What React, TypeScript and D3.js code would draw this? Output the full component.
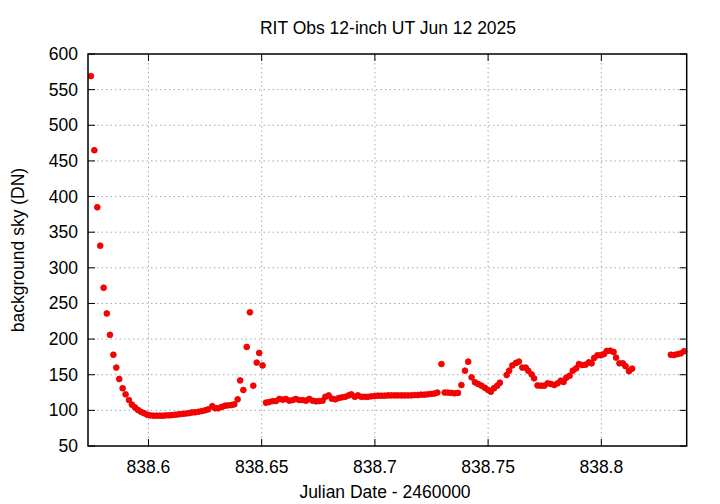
import * as d3 from "d3";

// Julian Date - 2460000 and background sky level (DN)
const jd = [
  838.5746, 838.5761, 838.5774, 838.5787, 838.5802, 838.5816, 838.583, 838.5845, 838.5858, 838.5871,
  838.5886, 838.5899, 838.5914, 838.5927, 838.5941, 838.5954, 838.5967, 838.598, 838.5994, 838.6008,
  838.6022, 838.6036, 838.605, 838.6064, 838.6078, 838.6092, 838.6106, 838.612, 838.6134, 838.6149,
  838.6163, 838.6177, 838.6191, 838.6205, 838.622, 838.6235, 838.625, 838.6264, 838.6282, 838.6294,
  838.6308, 838.6323, 838.6338, 838.6352, 838.6367, 838.6379, 838.6394, 838.6405, 838.6419, 838.6434,
  838.6448, 838.6463, 838.6478, 838.6489, 838.6504, 838.6519, 838.6533, 838.6549, 838.6563, 838.6578,
  838.6593, 838.6607, 838.6622, 838.6637, 838.6651, 838.6666, 838.6681, 838.6696, 838.671, 838.6725,
  838.674, 838.6754, 838.6769, 838.6781, 838.6796, 838.681, 838.6825, 838.684, 838.6854, 838.6869,
  838.6884, 838.6896, 838.6911, 838.6925, 838.694, 838.6955, 838.6969, 838.6984, 838.6999, 838.7013,
  838.7028, 838.7043, 838.7058, 838.7072, 838.7087, 838.7101, 838.7116, 838.713, 838.7145, 838.716,
  838.7174, 838.7189, 838.7203, 838.7218, 838.7232, 838.7247, 838.7262, 838.7276, 838.7294, 838.7308,
  838.7322, 838.7337, 838.7352, 838.7367, 838.7382, 838.7398, 838.7412, 838.7427, 838.7442, 838.7456,
  838.7471, 838.7486, 838.75, 838.7512, 838.7526, 838.754, 838.7552, 838.7582, 838.7593, 838.7607,
  838.7623, 838.7636, 838.7651, 838.7666, 838.7677, 838.7692, 838.7703, 838.7718, 838.7733, 838.7748,
  838.7763, 838.7777, 838.7792, 838.7807, 838.7821, 838.7833, 838.7845, 838.786, 838.7874, 838.7889,
  838.7901, 838.7915, 838.793, 838.7945, 838.7957, 838.7968, 838.7983, 838.7998, 838.8012, 838.8024,
  838.8039, 838.8054, 838.8065, 838.808, 838.8095, 838.8107, 838.8122, 838.8136, 838.8307, 838.8322,
  838.8337, 838.8351, 838.8366,
];
const sky = [
  569, 465, 385, 331, 272, 236, 206, 178, 160, 144,
  131, 122.5, 114.5, 108, 104, 100.5, 98, 96, 94, 93,
  92.5, 92.5, 92.5, 92.5, 93, 93, 93.5, 94, 94.5, 95,
  95.5, 96, 97, 97.3, 98, 99, 100, 101.5, 106, 103,
  103, 104.7, 106.5, 107, 107.5, 108.5, 115.5, 142, 128.6, 189,
  237.6, 134.6, 167, 180.5, 163, 110.8, 111.7, 113, 113, 116,
  115, 116, 113.6, 114.5, 116, 114.5, 114.5, 113.6, 116, 113.6,
  112.7, 113, 113.6, 119, 121, 116.4, 115.5, 117.3, 118.3, 119,
  121, 122.5, 119, 121, 119, 119, 119, 119.7, 120, 120.6,
  120.6, 120.6, 121, 121, 121, 121, 121, 121, 121, 121,
  121.5, 121.5, 122, 122, 122.5, 123, 123.5, 125, 165, 125,
  125, 124.5, 124, 124.5, 135.5, 155.7, 168.3, 146.4, 139.4, 137,
  134.6, 131.6, 128.6, 126.2, 131, 134.6, 138.8, 149.6, 155.7, 163,
  166.5, 168.5, 160, 160, 155.7, 150.6, 145, 135, 134.6, 134.6,
  138, 137, 135.6, 138, 141.6, 139.8, 145.8, 148.6, 155.7, 159,
  165, 163.6, 164, 167.4, 166, 173.5, 177.3, 177.3, 179, 183.3,
  183.7, 182, 174, 166, 166, 162, 155, 158.5, 178, 177.7,
  179, 180, 183,
];
const xTicks = [838.6, 838.65, 838.7, 838.75, 838.8];
const yTicks = [50, 100, 150, 200, 250, 300, 350, 400, 450, 500, 550, 600];

const W = 720;
const H = 504;
const left = 88;
const right = 686.7;
const top = 54;
const bottom = 446;
const font = "'Liberation Sans', Arial, sans-serif";
const fs = 17.5;

export default function App() {
  const x = d3.scaleLinear().domain([838.5733, 838.8377]).range([left, right]);
  const y = d3.scaleLinear().domain([50, 600]).range([bottom, top]);
  const tick = 7;

  return (
    <svg
      width={W}
      height={H}
      style={{ position: "absolute", left: 0, top: 0, background: "#fff" }}
      fontFamily={font}
    >
      <rect width={W} height={H} fill="#fff" />
      {/* grid */}
      <g stroke="#a8a8a8" strokeWidth={1} strokeDasharray="1.5,3">
        {xTicks.map((t) => (
          <line key={t} x1={x(t)} x2={x(t)} y1={top} y2={bottom} />
        ))}
        {yTicks.slice(1, -1).map((t) => (
          <line key={t} x1={left} x2={right} y1={y(t)} y2={y(t)} />
        ))}
      </g>
      {/* ticks on all four sides */}
      <g stroke="#000" strokeWidth={1}>
        {xTicks.map((t) => (
          <g key={t}>
            <line x1={x(t)} x2={x(t)} y1={bottom} y2={bottom - tick} />
            <line x1={x(t)} x2={x(t)} y1={top} y2={top + tick} />
          </g>
        ))}
        {yTicks.map((t) => (
          <g key={t}>
            <line x1={left} x2={left + tick} y1={y(t)} y2={y(t)} />
            <line x1={right} x2={right - tick} y1={y(t)} y2={y(t)} />
          </g>
        ))}
      </g>
      {/* points */}
      <g fill="#ff0000" stroke="#e00000" strokeWidth={0.8}>
        {jd.map((d, i) => (
          <circle key={i} cx={x(d)} cy={y(sky[i])} r={2.9} />
        ))}
      </g>
      <rect
        x={left}
        y={top}
        width={right - left}
        height={bottom - top}
        fill="none"
        stroke="#000"
        strokeWidth={1.5}
      />
      {/* tick labels */}
      <g fontSize={fs} fill="#000">
        {xTicks.map((t) => (
          <text key={t} x={x(t)} y={473} textAnchor="middle">
            {String(t)}
          </text>
        ))}
        {yTicks.map((t) => (
          <text key={t} x={78} y={y(t) + 6} textAnchor="end">
            {t}
          </text>
        ))}
      </g>
      <text x={388} y={34} fontSize={fs} textAnchor="middle">
        RIT Obs 12-inch UT Jun 12 2025
      </text>
      <text x={385} y={498} fontSize={fs} textAnchor="middle">
        Julian Date - 2460000
      </text>
      <text
        transform={`translate(24,250) rotate(-90)`}
        fontSize={fs}
        textAnchor="middle"
      >
        background sky (DN)
      </text>
    </svg>
  );
}
